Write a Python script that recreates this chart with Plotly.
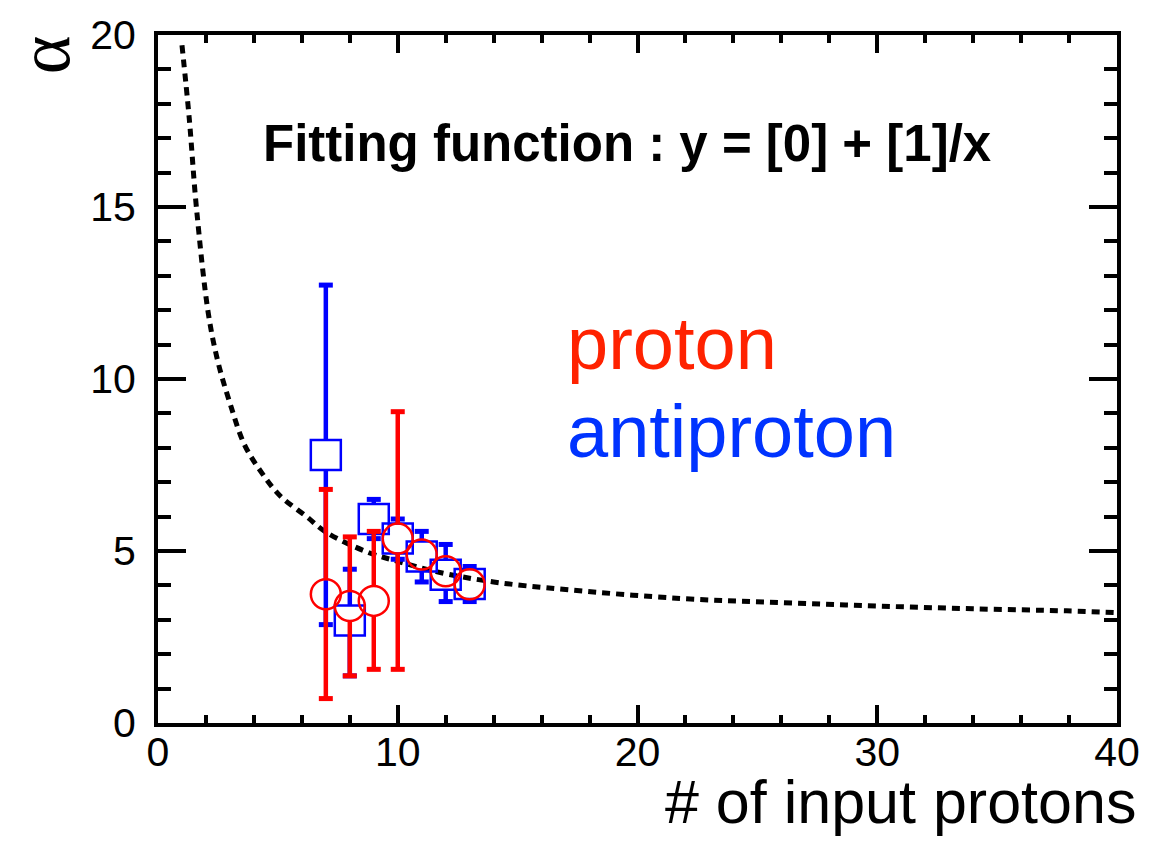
import plotly.graph_objects as go

# Number of input protons per point
n_input = [7, 8, 9, 10, 11, 12, 13]

# alpha for protons (red circles) with asymmetric error bar ends
proton_alpha = [3.74, 3.40, 3.55, 5.36, 4.90, 4.41, 4.03]
proton_hi = [6.79, 5.41, 5.57, 9.05, 5.22, 4.60, 4.20]
proton_lo = [0.71, 1.37, 1.56, 1.56, 4.60, 4.20, 3.85]

# alpha for antiprotons (blue squares)
pbar_alpha = [7.79, 2.98, 5.93, 5.36, 4.84, 4.31, 4.04]
pbar_hi = [12.73, 4.47, 6.50, 5.93, 5.57, 5.19, 4.55]
pbar_lo = [2.86, 1.37, 5.36, 4.76, 4.10, 3.53, 3.53]

# Fitted curve y = [0] + [1]/x, sampled along the drawn line
fit_x = [1.0, 1.3, 1.6, 2.1, 2.5, 3.0, 3.6, 4.3, 5.1, 6.2, 7.0, 8.8, 10.0,
         11.6, 14.0, 17.0, 21.8, 26.0, 30.0, 34.0, 37.9, 40.0]
fit_y = [19.7, 17.6, 15.0, 11.9, 10.5, 9.3, 8.1, 7.3, 6.6, 6.0, 5.55, 4.95, 4.7,
         4.4, 4.1, 3.88, 3.62, 3.5, 3.4, 3.32, 3.26, 3.21]

X_TICKS = [0, 10, 20, 30, 40]
Y_TICKS = [0, 5, 10, 15, 20]

RED = "rgb(255,0,0)"
BLUE = "rgb(0,0,255)"
GAP = 0.42  # half marker height in y units; bars stop at the marker edge

fig = go.Figure()

fig.add_trace(go.Scatter(
    x=fit_x, y=fit_y, mode="lines", line_shape="spline",
    line=dict(color="black", width=5, dash="8px,6px"),
    showlegend=False, hoverinfo="skip"))


def add_series(xs, ys, his, los, color, symbol, size):
    seg_x, seg_y, cap_x, cap_y = [], [], [], []
    for x, y, hi, lo in zip(xs, ys, his, los):
        if hi > y + GAP:
            seg_x += [x, x, None]
            seg_y += [y + GAP, hi, None]
            cap_x.append(x)
            cap_y.append(hi)
        if lo < y - GAP:
            seg_x += [x, x, None]
            seg_y += [lo, y - GAP, None]
            cap_x.append(x)
            cap_y.append(lo)
    fig.add_trace(go.Scatter(
        x=seg_x, y=seg_y, mode="lines",
        line=dict(color=color, width=4.5),
        showlegend=False, hoverinfo="skip", connectgaps=False))
    fig.add_trace(go.Scatter(
        x=cap_x, y=cap_y, mode="markers",
        marker=dict(symbol="line-ew", size=10, line=dict(color=color, width=5)),
        showlegend=False, hoverinfo="skip"))
    fig.add_trace(go.Scatter(
        x=xs, y=ys, mode="markers",
        marker=dict(symbol=symbol, size=size, color=color,
                    line=dict(color=color, width=2.5)),
        showlegend=False))


add_series(n_input, pbar_alpha, pbar_hi, pbar_lo, BLUE, "square-open", 30)
add_series(n_input, proton_alpha, proton_hi, proton_lo, RED, "circle-open", 30)

tick_font = dict(family="Liberation Sans, Arial, sans-serif", size=41, color="black")

fig.update_xaxes(
    range=[0, 40], tickvals=X_TICKS, ticktext=[str(v) for v in X_TICKS],
    ticks="inside", ticklen=18, tickwidth=4, tickcolor="black",
    minor=dict(dtick=2, ticks="inside", ticklen=8, tickwidth=4, tickcolor="black"),
    showline=True, linewidth=4, linecolor="black", mirror="ticks",
    showgrid=False, zeroline=False, tickfont=tick_font, ticklabelstandoff=-10)

fig.update_yaxes(
    range=[0, 20], tickvals=Y_TICKS, ticktext=[str(v) for v in Y_TICKS],
    ticks="inside", ticklen=28, tickwidth=4, tickcolor="black",
    minor=dict(dtick=1, ticks="inside", ticklen=13, tickwidth=4, tickcolor="black"),
    showline=True, linewidth=4, linecolor="black", mirror="ticks",
    showgrid=False, zeroline=False, tickfont=tick_font, ticklabelstandoff=10)

fig.add_annotation(
    text="# of input protons", xref="paper", yref="paper",
    x=1.022, y=-0.115, xanchor="right", yanchor="middle", showarrow=False,
    font=dict(family="Liberation Sans, Arial, sans-serif", size=61, color="black"))

fig.add_annotation(
    text="α", xref="paper", yref="paper", textangle=-90,
    x=-0.119, y=0.972, xanchor="center", yanchor="middle", showarrow=False,
    font=dict(family="Liberation Serif, serif", size=74, color="black"))

fig.add_annotation(
    text="<b>Fitting function : y = [0] + [1]/x</b>", xref="paper", yref="paper",
    x=0.489, y=0.842, xanchor="center", yanchor="middle", showarrow=False,
    font=dict(family="Liberation Sans Narrow, Arial Narrow, Liberation Sans, sans-serif",
              size=51, color="black"))

fig.add_annotation(
    text="proton", xref="paper", yref="paper",
    x=0.4245, y=0.552, xanchor="left", yanchor="middle", showarrow=False,
    font=dict(family="Liberation Sans, Arial, sans-serif", size=74, color="rgb(255,34,0)"))

fig.add_annotation(
    text="antiproton", xref="paper", yref="paper",
    x=0.4245, y=0.423, xanchor="left", yanchor="middle", showarrow=False,
    font=dict(family="Liberation Sans, Arial, sans-serif", size=74, color="rgb(0,51,255)"))

fig.update_layout(
    width=1168, height=841,
    margin=dict(l=158, r=51, t=25, b=118),
    paper_bgcolor="white", plot_bgcolor="white",
    showlegend=False)

fig.write_html("out.html")
